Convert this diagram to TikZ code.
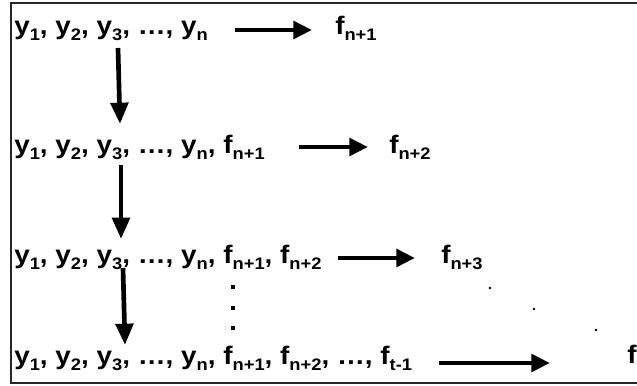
\documentclass[tikz,border=0pt]{standalone}
\usepackage{fontspec}
\setmainfont{Liberation Sans}[FakeStretch=1.1]
\usetikzlibrary{arrows.meta}
\newcommand\sbs[1]{\raisebox{-4.5pt}{\fontsize{12.5pt}{13pt}\selectfont #1}}
\tikzset{
  rowtext/.style={anchor=base west, inner sep=0pt, font=\fontsize{19pt}{22pt}\selectfont\bfseries},
  harrow/.style={line width=3.5pt, -{Triangle[length=14pt,width=13pt]}},
  varrow/.style={line width=3.5pt, -{Triangle[length=16pt,width=13pt]}},
  bigdot/.style={fill=black},
  smalldot/.style={fill=black}
}
\begin{document}
\begin{tikzpicture}[x=0.75pt,y=-0.75pt]
\useasboundingbox (0,0) rectangle (637,386);
\clip (0,0) rectangle (637,386);
\draw[line width=1.8pt, draw=black!85] (11,3) rectangle (660,383);

\node[rowtext] (r1) at (14,34) {y\sbs{1}, y\sbs{2}, y\sbs{3}, …, y\sbs{n}};
\node[rowtext] (t1) at (335,34) {f\sbs{n+1}};
\node[rowtext] (r2) at (14,153) {y\sbs{1}, y\sbs{2}, y\sbs{3}, …, y\sbs{n}, f\sbs{n+1}};
\node[rowtext] (t2) at (389,153) {f\sbs{n+2}};
\node[rowtext] (r3) at (14,263) {y\sbs{1}, y\sbs{2}, y\sbs{3}, …, y\sbs{n}, f\sbs{n+1}, f\sbs{n+2}};
\node[rowtext] (t3) at (441,263) {f\sbs{n+3}};
\node[rowtext] (r4) at (14,364) {y\sbs{1}, y\sbs{2}, y\sbs{3}, …, y\sbs{n}, f\sbs{n+1}, f\sbs{n+2}, …, f\sbs{t-1}};
\node[rowtext] (t4) at (627,363) {f};

\coordinate (h1s) at (235,30);  \coordinate (h1e) at (312,30);
\coordinate (h2s) at (299,147); \coordinate (h2e) at (368,147);
\coordinate (h3s) at (338,258); \coordinate (h3e) at (415,258);
\coordinate (h4s) at (439,363); \coordinate (h4e) at (550,363);
\draw[harrow] (h1s) -- (h1e);
\draw[harrow] (h2s) -- (h2e);
\draw[harrow] (h3s) -- (h3e);
\draw[harrow] (h4s) -- (h4e);

\coordinate (v1s) at (118,48);  \coordinate (v1e) at (120,124);
\coordinate (v2s) at (121,165); \coordinate (v2e) at (121,239);
\coordinate (v3s) at (123,268); \coordinate (v3e) at (125,345);
\draw[varrow] (v1s) -- (v1e);
\draw[varrow] (v2s) -- (v2e);
\draw[varrow] (v3s) -- (v3e);

\fill[bigdot] (231,285) rectangle (235,289);
\fill[bigdot] (231,306) rectangle (235,310);
\fill[bigdot] (231,326) rectangle (235,330);

\fill[smalldot] (490,288) circle (1.3);
\fill[smalldot] (534,309) circle (1.3);
\fill[smalldot] (596,330) circle (1.3);
\end{tikzpicture}
\end{document}
